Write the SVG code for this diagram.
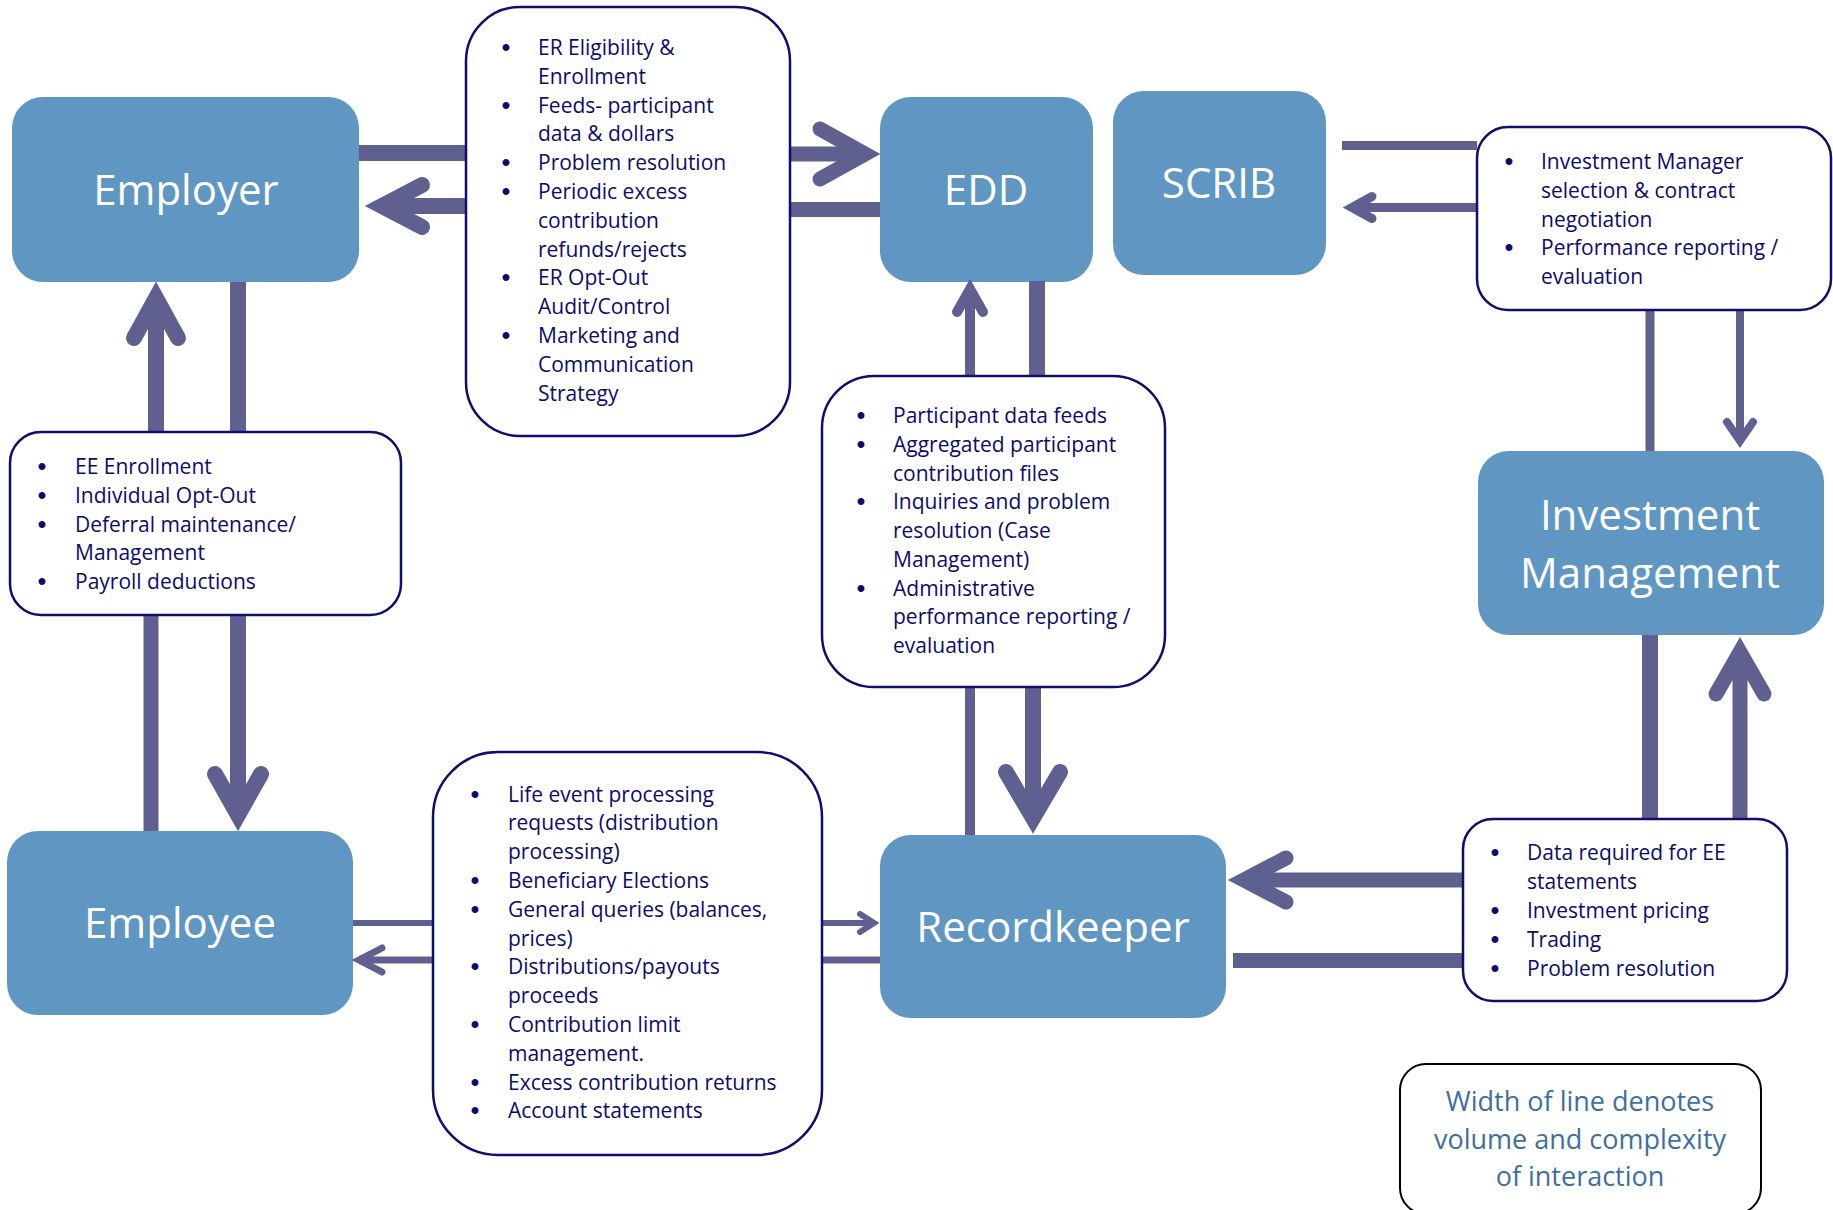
<svg xmlns="http://www.w3.org/2000/svg" width="1833" height="1210" viewBox="0 0 1833 1210">
<style>
.node{fill:#6096C2}
.lbl{font-family:"Open Sans",sans-serif;font-size:42px;fill:#fff;text-anchor:middle}
.box{fill:#fff;stroke:#0E0E6E;stroke-width:2.5}
.t{font-family:"Open Sans",sans-serif;font-size:21px;fill:#0C0C6C}
.b{text-anchor:middle;font-family:"Liberation Sans",sans-serif;font-size:24px;font-weight:bold}
.ln{stroke:#606090;fill:none;stroke-linecap:butt}
.ah{stroke:#606090;fill:none;stroke-linecap:round;stroke-linejoin:miter;stroke-miterlimit:10}
.leg{font-family:"Open Sans",sans-serif;font-size:27px;fill:#3D6FA0;text-anchor:middle}
</style>
<rect width="1833" height="1210" fill="#fff"/>

<g id="employer"><rect class="node" x="12" y="97" width="347" height="185" rx="31"/><text class="lbl" x="186" y="205">Employer</text></g>
<g id="edd"><rect class="node" x="880" y="97" width="213" height="185" rx="31"/><text class="lbl" x="986" y="205">EDD</text></g>
<g id="scrib"><rect class="node" x="1113" y="91" width="213" height="184" rx="31"/><text class="lbl" x="1219" y="198">SCRIB</text></g>
<g id="investment-management"><rect class="node" x="1478" y="451" width="346" height="184" rx="31"/><text class="lbl" x="1650" y="530">Investment</text><text class="lbl" x="1650" y="588">Management</text></g>
<g id="employee"><rect class="node" x="7" y="831" width="346" height="184" rx="31"/><text class="lbl" x="180" y="938">Employee</text></g>
<g id="recordkeeper"><rect class="node" x="880" y="835" width="346" height="183" rx="31"/><text class="lbl" x="1053" y="942">Recordkeeper</text></g>

<g id="connectors">
<path class="ln" stroke-width="16" d="M359,153 H466"/>
<path class="ln" stroke-width="16" d="M466,206 H382"/>
<path class="ah" stroke-width="16" d="M422,185 L382,206 L422,227"/>
<path class="ln" stroke-width="15" d="M791,154 H865"/>
<path class="ah" stroke-width="15" d="M820,129 L865,154 L820,179"/>
<path class="ln" stroke-width="15" d="M791,209.5 H880"/>
<path class="ln" stroke-width="16" d="M156,432 V298"/>
<path class="ah" stroke-width="16" d="M134,338 L156,298 L178,338"/>
<path class="ln" stroke-width="16" d="M238,282 V432"/>
<path class="ln" stroke-width="16" d="M238,615 V815"/>
<path class="ah" stroke-width="16" d="M215,774 L238,815 L261,774"/>
<path class="ln" stroke-width="15" d="M151,615 V831"/>
<path class="ln" stroke-width="10" d="M970,376 V289"/>
<path class="ah" stroke-width="10" d="M957,312 L970,289 L983,312"/>
<path class="ln" stroke-width="16" d="M1037,281 V376"/>
<path class="ln" stroke-width="10" d="M970,687 V835"/>
<path class="ln" stroke-width="16" d="M1033,687 V818"/>
<path class="ah" stroke-width="16" d="M1006,772 L1033,818 L1060,772"/>
<path class="ln" stroke-width="9" d="M1342,145.5 H1477"/>
<path class="ln" stroke-width="9" d="M1477,207.5 H1352"/>
<path class="ah" stroke-width="9" d="M1372,196.5 L1352,207.5 L1372,218.5"/>
<path class="ln" stroke-width="9" d="M1650,310 V451"/>
<path class="ln" stroke-width="8" d="M1740,310 V441"/>
<path class="ah" stroke-width="8" d="M1727,422 L1740,441 L1753,422"/>
<path class="ln" stroke-width="16" d="M1650,635 V819"/>
<path class="ln" stroke-width="15" d="M1740,819 V652"/>
<path class="ah" stroke-width="15" d="M1716,694 L1740,652 L1764,694"/>
<path class="ln" stroke-width="15" d="M1463,880 H1244"/>
<path class="ah" stroke-width="15" d="M1286,858 L1244,880 L1286,902"/>
<path class="ln" stroke-width="15" d="M1233,960.5 H1463"/>
<path class="ln" stroke-width="6" d="M353,923 H433"/>
<path class="ln" stroke-width="7" d="M433,960 H359"/>
<path class="ah" stroke-width="7" d="M382,948 L359,960 L382,972"/>
<path class="ln" stroke-width="6" d="M822,923 H874"/>
<path class="ah" stroke-width="6" d="M860,914 L874,923 L860,932"/>
<path class="ln" stroke-width="7" d="M822,960 H880"/>
</g>

<g id="er-interactions">
<rect class="box" x="466" y="7" width="324" height="429" rx="54"/>
<g class="t">
<text class="b" x="506" y="55">•</text><text x="538" y="55">ER Eligibility &amp;</text>
<text x="538" y="83.8">Enrollment</text>
<text class="b" x="506" y="112.6">•</text><text x="538" y="112.6">Feeds- participant</text>
<text x="538" y="141.4">data &amp; dollars</text>
<text class="b" x="506" y="170.2">•</text><text x="538" y="170.2">Problem resolution</text>
<text class="b" x="506" y="199">•</text><text x="538" y="199">Periodic excess</text>
<text x="538" y="227.8">contribution</text>
<text x="538" y="256.6">refunds/rejects</text>
<text class="b" x="506" y="285.4">•</text><text x="538" y="285.4">ER Opt-Out</text>
<text x="538" y="314.2">Audit/Control</text>
<text class="b" x="506" y="343">•</text><text x="538" y="343">Marketing and</text>
<text x="538" y="371.8">Communication</text>
<text x="538" y="400.6">Strategy</text>
</g>
</g>

<g id="ee-interactions">
<rect class="box" x="10" y="432" width="391" height="183" rx="31"/>
<g class="t">
<text class="b" x="42" y="474">•</text><text x="75" y="474">EE Enrollment</text>
<text class="b" x="42" y="502.8">•</text><text x="75" y="502.8">Individual Opt-Out</text>
<text class="b" x="42" y="531.6">•</text><text x="75" y="531.6">Deferral maintenance/</text>
<text x="75" y="560.4">Management</text>
<text class="b" x="42" y="589.2">•</text><text x="75" y="589.2">Payroll deductions</text>
</g>
</g>

<g id="edd-rk-interactions">
<rect class="box" x="822" y="376" width="343" height="311" rx="52"/>
<g class="t">
<text class="b" x="861" y="423.3">•</text><text x="893" y="423.3">Participant data feeds</text>
<text class="b" x="861" y="452">•</text><text x="893" y="452">Aggregated participant</text>
<text x="893" y="480.7">contribution files</text>
<text class="b" x="861" y="509.4">•</text><text x="893" y="509.4">Inquiries and problem</text>
<text x="893" y="538.1">resolution (Case</text>
<text x="893" y="566.8">Management)</text>
<text class="b" x="861" y="595.5">•</text><text x="893" y="595.5">Administrative</text>
<text x="893" y="624.2">performance reporting /</text>
<text x="893" y="652.9">evaluation</text>
</g>
</g>

<g id="scrib-im-interactions">
<rect class="box" x="1477" y="127" width="354" height="183" rx="31"/>
<g class="t">
<text class="b" x="1509" y="169.2">•</text><text x="1541" y="169.2">Investment Manager</text>
<text x="1541" y="197.9">selection &amp; contract</text>
<text x="1541" y="226.6">negotiation</text>
<text class="b" x="1509" y="255.3">•</text><text x="1541" y="255.3">Performance reporting /</text>
<text x="1541" y="284">evaluation</text>
</g>
</g>

<g id="employee-rk-interactions">
<rect class="box" x="433" y="752" width="389" height="403" rx="65"/>
<g class="t">
<text class="b" x="475" y="801.5">•</text><text x="508" y="801.5">Life event processing</text>
<text x="508" y="830.3">requests (distribution</text>
<text x="508" y="859.1">processing)</text>
<text class="b" x="475" y="887.9">•</text><text x="508" y="887.9">Beneficiary Elections</text>
<text class="b" x="475" y="916.7">•</text><text x="508" y="916.7">General queries (balances,</text>
<text x="508" y="945.5">prices)</text>
<text class="b" x="475" y="974.3">•</text><text x="508" y="974.3">Distributions/payouts</text>
<text x="508" y="1003.1">proceeds</text>
<text class="b" x="475" y="1031.9">•</text><text x="508" y="1031.9">Contribution limit</text>
<text x="508" y="1060.7">management.</text>
<text class="b" x="475" y="1089.5">•</text><text x="508" y="1089.5">Excess contribution returns</text>
<text class="b" x="475" y="1118.3">•</text><text x="508" y="1118.3">Account statements</text>
</g>
</g>

<g id="rk-im-interactions">
<rect class="box" x="1463" y="819" width="324" height="182" rx="30"/>
<g class="t">
<text class="b" x="1495" y="860">•</text><text x="1527" y="860">Data required for EE</text>
<text x="1527" y="888.9">statements</text>
<text class="b" x="1495" y="917.8">•</text><text x="1527" y="917.8">Investment pricing</text>
<text class="b" x="1495" y="946.7">•</text><text x="1527" y="946.7">Trading</text>
<text class="b" x="1495" y="975.6">•</text><text x="1527" y="975.6">Problem resolution</text>
</g>
</g>

<g id="legend">
<rect x="1400" y="1064" width="361" height="150" rx="26" fill="#fff" stroke="#000" stroke-width="2"/>
<text class="leg" x="1580" y="1111">Width of line denotes</text>
<text class="leg" x="1580" y="1149">volume and complexity</text>
<text class="leg" x="1580" y="1186">of interaction</text>
</g>
</svg>
